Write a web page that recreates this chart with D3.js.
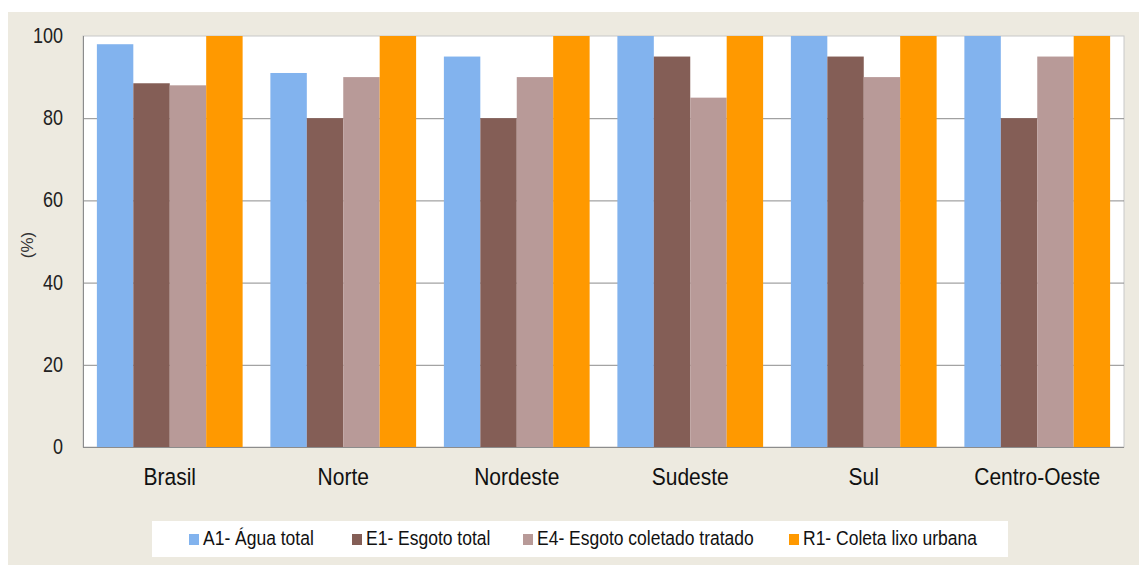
<!DOCTYPE html>
<html>
<head>
<meta charset="utf-8">
<script src="https://cdn.jsdelivr.net/npm/d3@7"></script>
<style>
  body { margin: 0; background: #fff; }
  svg { display: block; font-family: "Liberation Sans", Arial, sans-serif; }
</style>
</head>
<body>
<div id="chart"></div>
<script>
// chart data
const regions = ["Brasil", "Norte", "Nordeste", "Sudeste", "Sul", "Centro-Oeste"];
const seriesNames = ["A1- Água total", "E1- Esgoto total", "E4- Esgoto coletado tratado", "R1- Coleta lixo urbana"];
const aguaTotal = [98, 91, 95, 100, 100, 100];
const esgotoTotal = [88.5, 80, 80, 95, 95, 80];
const esgotoTratado = [88, 90, 90, 85, 90, 95];
const coletaLixo = [100, 100, 100, 100, 100, 100];
const yTicks = [0, 20, 40, 60, 80, 100];

const colors = ["#82b3ee", "#845e56", "#b89a98", "#ff9900"];
const seriesValues = [aguaTotal, esgotoTotal, esgotoTratado, coletaLixo];

const W = 1139, H = 565;
const plot = {left: 83, right: 1124, top: 36, bottom: 447};
const STRETCH = 1.18; // text in the original looks a bit taller than wide

const svg = d3.select("#chart").append("svg").attr("width", W).attr("height", H);

// beige frame
svg.append("rect").attr("x", 8).attr("y", 12).attr("width", W - 8).attr("height", H - 12).attr("fill", "#edeae0");

// white plot area
svg.append("rect")
  .attr("x", plot.left).attr("y", plot.top)
  .attr("width", plot.right - plot.left).attr("height", plot.bottom - plot.top)
  .attr("fill", "#fff").attr("stroke", "#c8c8c8");

const x0 = d3.scaleBand().domain(regions).range([plot.left, plot.right]).paddingInner(0.16).paddingOuter(0.08);
const x1 = d3.scaleBand().domain(d3.range(seriesNames.length)).range([0, x0.bandwidth()]);
const y = d3.scaleLinear().domain([0, 100]).range([plot.bottom, plot.top]);

// gridlines
svg.append("g").selectAll("line").data(yTicks.filter(t => t > 0 && t < 100)).enter().append("line")
  .attr("x1", plot.left).attr("x2", plot.right)
  .attr("y1", d => y(d) + 0.5).attr("y2", d => y(d) + 0.5)
  .attr("stroke", "#8c8c8c");

// bars
const groups = svg.append("g").selectAll("g").data(regions).enter().append("g")
  .attr("transform", d => `translate(${x0(d)},0)`);
groups.selectAll("rect")
  .data((d, i) => seriesValues.map((s, k) => ({k: k, v: s[i]})))
  .enter().append("rect")
  .attr("x", d => x1(d.k))
  .attr("y", d => y(d.v))
  .attr("width", x1.bandwidth())
  .attr("height", d => y(0) - y(d.v))
  .attr("fill", d => colors[d.k]);

// axes lines
svg.append("line").attr("x1", plot.left + 0.5).attr("x2", plot.left + 0.5)
  .attr("y1", plot.top).attr("y2", plot.bottom).attr("stroke", "#8c8c8c");
svg.append("line").attr("x1", plot.left).attr("x2", plot.right)
  .attr("y1", plot.bottom + 0.5).attr("y2", plot.bottom + 0.5).attr("stroke", "#8c8c8c");

// y tick labels
svg.append("g").selectAll("text").data(yTicks).enter().append("text")
  .attr("transform", d => `translate(63,${y(d) + 7}) scale(1,${STRETCH})`)
  .attr("text-anchor", "end").attr("font-size", 18).attr("fill", "#222")
  .text(d => d);

// y title
svg.append("text").attr("transform", "translate(33,245) rotate(-90)")
  .attr("text-anchor", "middle").attr("font-size", 17).attr("fill", "#333")
  .text("(%)");

// x labels
svg.append("g").selectAll("text").data(regions).enter().append("text")
  .attr("transform", d => `translate(${x0(d) + x0.bandwidth() / 2},485) scale(1,${STRETCH})`)
  .attr("text-anchor", "middle").attr("font-size", 21).attr("fill", "#111")
  .text(d => d);

// legend
svg.append("rect").attr("x", 152).attr("y", 521).attr("width", 856).attr("height", 36).attr("fill", "#fff");
const legendX = [189, 352, 523, 789];
const legend = svg.append("g").selectAll("g").data(seriesNames).enter().append("g")
  .attr("transform", (d, i) => `translate(${legendX[i]},539)`);
legend.append("rect").attr("x", 0).attr("y", -5).attr("width", 10).attr("height", 11)
  .attr("fill", (d, i) => colors[i]);
legend.append("text").attr("transform", `translate(14,6) scale(1,${STRETCH})`)
  .attr("font-size", 17.5).attr("fill", "#111")
  .text(d => d);
</script>
</body>
</html>
